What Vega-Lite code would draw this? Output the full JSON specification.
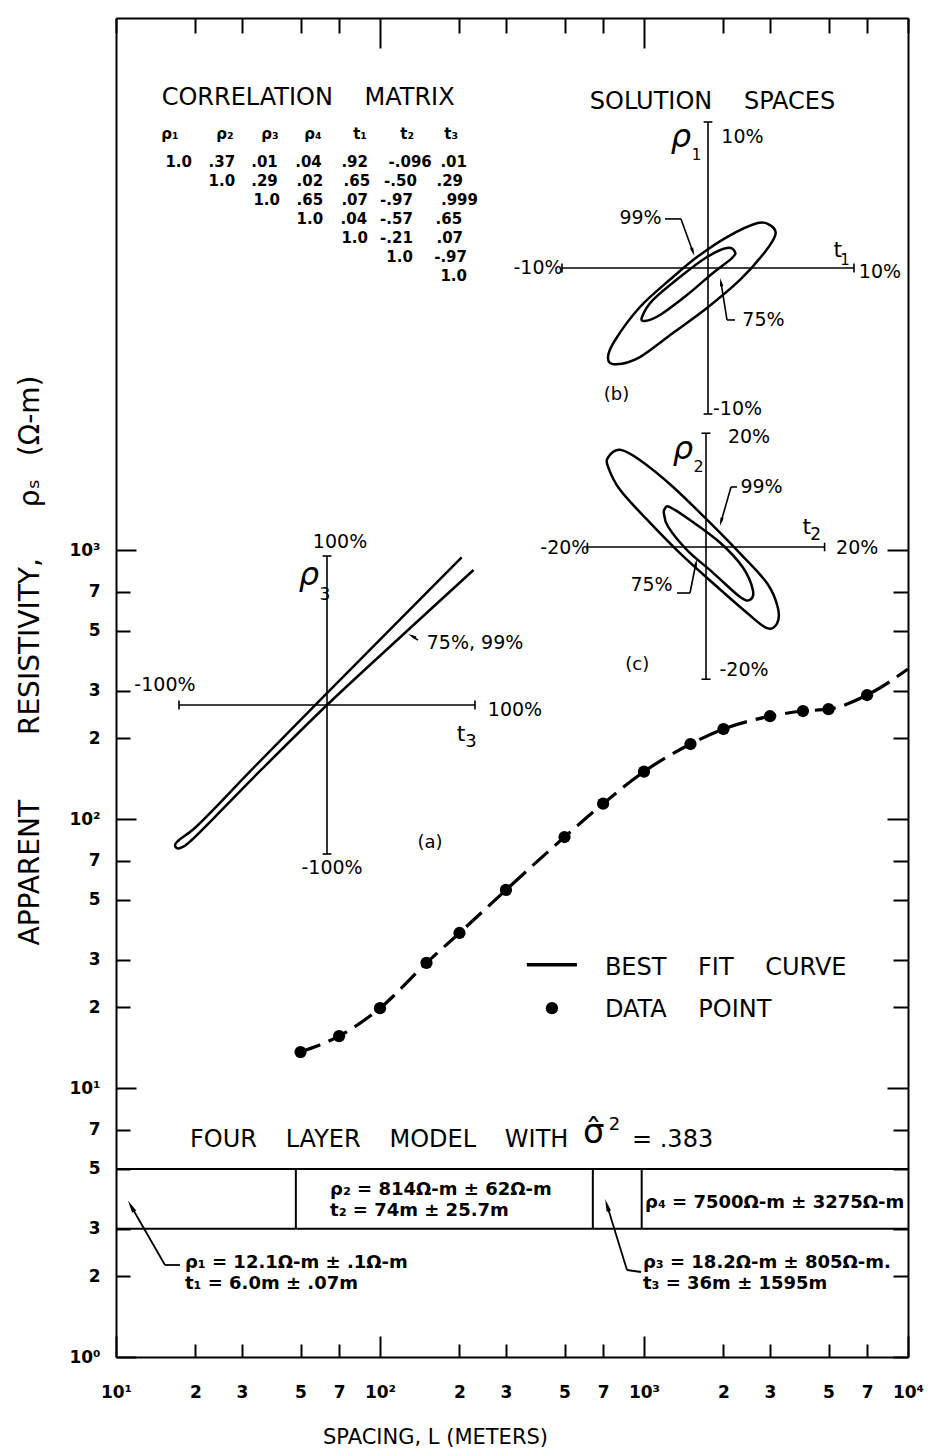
{
  "$schema": "https://vega.github.io/schema/vega-lite/v6.json",
  "width": 792,
  "height": 1339,
  "autosize": {"type": "none"},
  "padding": {"left": 116, "top": 18, "right": 27, "bottom": 97},
  "background": "white",
  "config": {"view": {"stroke": null}, "font": "DejaVu Sans", "text": {"color": "black"}},
  "datasets": {
    "curve": [
      {"x": 50, "y": 13.6}, {"x": 70, "y": 15.6}, {"x": 100, "y": 19.8}, {"x": 150, "y": 29.2},
      {"x": 200, "y": 37.7}, {"x": 300, "y": 54.5}, {"x": 500, "y": 85.7}, {"x": 700, "y": 114},
      {"x": 1000, "y": 150}, {"x": 1500, "y": 190}, {"x": 2000, "y": 216}, {"x": 3000, "y": 241},
      {"x": 4000, "y": 252}, {"x": 5000, "y": 256}, {"x": 7000, "y": 289}, {"x": 10000, "y": 361}
    ],
    "points": [
      {"x": 50, "y": 13.6}, {"x": 70, "y": 15.6}, {"x": 100, "y": 19.8}, {"x": 150, "y": 29.2},
      {"x": 200, "y": 37.7}, {"x": 300, "y": 54.5}, {"x": 500, "y": 85.7}, {"x": 700, "y": 114},
      {"x": 1000, "y": 150}, {"x": 1500, "y": 190}, {"x": 2000, "y": 216}, {"x": 3000, "y": 241},
      {"x": 4000, "y": 252}, {"x": 5000, "y": 256}, {"x": 7000, "y": 289}
    ],
    "layerBox": [
      {"x": 10, "x2": 10000, "y": 5, "y2": 5},
      {"x": 10, "x2": 10000, "y": 3, "y2": 3},
      {"x": 48, "x2": 48, "y": 3, "y2": 5},
      {"x": 640, "x2": 640, "y": 3, "y2": 5},
      {"x": 980, "x2": 980, "y": 3, "y2": 5}
    ],
    "leaders": [
      {"x": 17.47, "x2": 15.33, "y": 2.198, "y2": 2.198},
      {"x": 15.33, "x2": 11.4, "y": 2.198, "y2": 3.64},
      {"x": 974, "x2": 862, "y": 2.07, "y2": 2.106},
      {"x": 862, "x2": 724, "y": 2.106, "y2": 3.67}
    ],
    "legendLine": [{"x": 360, "x2": 557, "y": 28.7, "y2": 28.7}],
    "legendDot": [{"x": 448, "y": 19.8}],
    "mainHeads": [{"x": 11.4, "y": 3.64, "a": 330}, {"x": 724, "y": 3.67, "a": 343}],
    "layerNotes": [
      {"x": 64.7, "y": 4.18, "txt": "ρ₂ = 814Ω-m ± 62Ω-m"},
      {"x": 64.7, "y": 3.49, "txt": "t₂ = 74m ± 25.7m"},
      {"x": 1009, "y": 3.74, "txt": "ρ₄ = 7500Ω-m ± 3275Ω-m"},
      {"x": 18.25, "y": 2.236, "txt": "ρ₁ = 12.1Ω-m ± .1Ω-m"},
      {"x": 18.25, "y": 1.868, "txt": "t₁ = 6.0m ± .07m"},
      {"x": 991, "y": 2.236, "txt": "ρ₃ = 18.2Ω-m ± 805Ω-m."},
      {"x": 991, "y": 1.868, "txt": "t₃ = 36m ± 1595m"}
    ],
    "modelTitle": [
      {"x": 19.06, "y": 6.41, "s": 24, "txt": "FOUR\u2003\u2009LAYER\u2003\u2009MODEL\u2003\u2009WITH"},
      {"x": 587.6, "y": 6.8, "s": 34, "txt": "σ̂"},
      {"x": 736, "y": 7.29, "s": 18, "txt": "2"},
      {"x": 900.6, "y": 6.41, "s": 24, "txt": "= .383"}
    ],
    "legendText": [
      {"x": 711, "y": 27.9, "txt": "BEST\u2003 FIT\u2003 CURVE"},
      {"x": 711, "y": 19.5, "txt": "DATA\u2003 POINT"}
    ],
    "aSeg": [
      {"t": -100, "t2": 100, "r": 0, "r2": 0}, {"t": 0, "t2": 0, "r": -100, "r2": 100},
      {"t": -100, "t2": -100, "r": -3, "r2": 3}, {"t": 100, "t2": 100, "r": -3, "r2": 3},
      {"t": -3, "t2": 3, "r": 100, "r2": 100}, {"t": -3, "t2": 3, "r": -100, "r2": -100},
      {"t": 61.5, "t2": 57.4, "r": 43.6, "r2": 46.3}
    ],
    "aShape": [
      {"i": 0, "t": 91, "r": 99.1}, {"i": 1, "t": 40, "r": 48}, {"i": 2, "t": 0, "r": 8},
      {"i": 3, "t": -50, "r": -42.5}, {"i": 4, "t": -90.3, "r": -83.4}, {"i": 5, "t": -100.5, "r": -91.1},
      {"i": 6, "t": -102.7, "r": -94}, {"i": 7, "t": -101.1, "r": -96.2}, {"i": 8, "t": -97.1, "r": -95.1},
      {"i": 9, "t": -91.4, "r": -90.6}, {"i": 10, "t": -50, "r": -49}, {"i": 11, "t": 0, "r": 0},
      {"i": 12, "t": 50, "r": 46}, {"i": 13, "t": 99, "r": 90.6}
    ],
    "aHeads": [{"t": 57.4, "r": 46.3, "a": 297}],
    "aText": [
      {"t": 8.8, "r": 109.4, "s": 19, "txt": "100%"},
      {"t": -109.5, "r": 13.4, "s": 19, "txt": "-100%"},
      {"t": 127, "r": -3.4, "s": 19, "txt": "100%"},
      {"t": 90.5, "r": -19.5, "s": 22, "txt": "t"},
      {"t": 97.3, "r": -24.8, "s": 18, "txt": "3"},
      {"t": 100, "r": 41.6, "s": 19, "txt": "75%, 99%"},
      {"t": 69.6, "r": -92.6, "s": 18, "txt": "(a)"},
      {"t": 3.4, "r": -109.4, "s": 19, "txt": "-100%"},
      {"t": -1.35, "r": 73.8, "s": 17, "txt": "3"}
    ],
    "aRho": [{"t": -12.2, "r": 87.2, "txt": "ρ"}],
    "bSeg": [
      {"t": -10, "t2": 10, "r": 0, "r2": 0}, {"t": 0, "t2": 0, "r": -10, "r2": 10},
      {"t": -10, "t2": -10, "r": -0.3, "r2": 0.3}, {"t": 10, "t2": 10, "r": -0.3, "r2": 0.3},
      {"t": -0.3, "t2": 0.3, "r": 10, "r2": 10}, {"t": -0.3, "t2": 0.3, "r": -10, "r2": -10},
      {"t": -2.95, "t2": -1.85, "r": 3.36, "r2": 3.36}, {"t": -1.85, "t2": -1.03, "r": 3.36, "r2": 1.1},
      {"t": 1.85, "t2": 1.3, "r": -3.56, "r2": -3.56}, {"t": 1.3, "t2": 0.89, "r": -3.56, "r2": -0.96}
    ],
    "bShape": [
      {"k": "99", "i": 0, "t": 4.3, "r": 2.9}, {"k": "99", "i": 1, "t": 3.4, "r": 3.08},
      {"k": "99", "i": 2, "t": 1.3, "r": 2.12}, {"k": "99", "i": 3, "t": -0.75, "r": 0.75},
      {"k": "99", "i": 4, "t": -2.4, "r": -0.62}, {"k": "99", "i": 5, "t": -4.66, "r": -2.67},
      {"k": "99", "i": 6, "t": -6.4, "r": -5.0}, {"k": "99", "i": 7, "t": -6.85, "r": -6.2},
      {"k": "99", "i": 8, "t": -6.3, "r": -6.6}, {"k": "99", "i": 9, "t": -4.66, "r": -6.1},
      {"k": "99", "i": 10, "t": -2.4, "r": -4.45}, {"k": "99", "i": 11, "t": -0.07, "r": -2.74},
      {"k": "99", "i": 12, "t": 2.19, "r": -0.82}, {"k": "99", "i": 13, "t": 3.9, "r": 1.1},
      {"k": "99", "i": 14, "t": 4.62, "r": 2.3},
      {"k": "75", "i": 0, "t": 1.85, "r": 1.1}, {"k": "75", "i": 1, "t": 1.3, "r": 1.37},
      {"k": "75", "i": 2, "t": -0.07, "r": 0.75}, {"k": "75", "i": 3, "t": -1.92, "r": -0.62},
      {"k": "75", "i": 4, "t": -3.77, "r": -2.19}, {"k": "75", "i": 5, "t": -4.52, "r": -3.36},
      {"k": "75", "i": 6, "t": -4.32, "r": -3.63}, {"k": "75", "i": 7, "t": -3.29, "r": -3.22},
      {"k": "75", "i": 8, "t": -1.44, "r": -1.85}, {"k": "75", "i": 9, "t": 0.34, "r": -0.34},
      {"k": "75", "i": 10, "t": 1.64, "r": 0.68}
    ],
    "bHeads": [{"t": -1.03, "r": 1.1, "a": 160}, {"t": 0.89, "r": -0.96, "a": 351}],
    "bText": [
      {"t": 0.31, "r": 11.37, "s": 24, "txt": "SOLUTION\u2003 SPACES"},
      {"t": 2.36, "r": 8.97, "s": 19, "txt": "10%"},
      {"t": -11.64, "r": 0, "s": 19, "txt": "-10%"},
      {"t": 8.9, "r": 1.23, "s": 22, "txt": "t"},
      {"t": 9.38, "r": 0.55, "s": 15, "txt": "1"},
      {"t": 11.78, "r": -0.27, "s": 19, "txt": "10%"},
      {"t": -4.62, "r": 3.42, "s": 19, "txt": "99%"},
      {"t": 3.8, "r": -3.56, "s": 19, "txt": "75%"},
      {"t": -6.27, "r": -8.7, "s": 18, "txt": "(b)"},
      {"t": 2.02, "r": -9.66, "s": 19, "txt": "-10%"},
      {"t": -0.79, "r": 7.74, "s": 15, "txt": "1"}
    ],
    "bRho": [{"t": -1.85, "r": 8.97, "txt": "ρ"}],
    "cSeg": [
      {"t": -20, "t2": 20, "r": 0, "r2": 0}, {"t": 0, "t2": 0, "r": -21.5, "r2": 18.5},
      {"t": -20, "t2": -20, "r": -0.7, "r2": 0.7}, {"t": 20, "t2": 20, "r": -0.7, "r2": 0.7},
      {"t": -0.75, "t2": 0.75, "r": 18.5, "r2": 18.5}, {"t": -0.75, "t2": 0.75, "r": -21.5, "r2": -21.5},
      {"t": 5.23, "t2": 4.22, "r": 9.76, "r2": 9.76}, {"t": 4.22, "t2": 2.53, "r": 9.76, "r2": 4.07},
      {"t": -4.89, "t2": -2.7, "r": -7.48, "r2": -7.48}, {"t": -2.7, "t2": -1.69, "r": -7.48, "r2": -2.6}
    ],
    "cShape": [
      {"k": "99", "i": 0, "t": -16.5, "r": 14.6}, {"k": "99", "i": 1, "t": -14.5, "r": 15.8},
      {"k": "99", "i": 2, "t": -11.1, "r": 14.1}, {"k": "99", "i": 3, "t": -5.6, "r": 9.8},
      {"k": "99", "i": 4, "t": 0.2, "r": 4.4}, {"k": "99", "i": 5, "t": 5.7, "r": -1.0},
      {"k": "99", "i": 6, "t": 10.3, "r": -5.9}, {"k": "99", "i": 7, "t": 12.1, "r": -9.8},
      {"k": "99", "i": 8, "t": 12.0, "r": -12.4}, {"k": "99", "i": 9, "t": 10.3, "r": -13.2},
      {"k": "99", "i": 10, "t": 6.9, "r": -10.7}, {"k": "99", "i": 11, "t": 1.2, "r": -5.9},
      {"k": "99", "i": 12, "t": -4.4, "r": -1.0}, {"k": "99", "i": 13, "t": -9.9, "r": 4.4},
      {"k": "99", "i": 14, "t": -14.5, "r": 9.3}, {"k": "99", "i": 15, "t": -16.5, "r": 13.0},
      {"k": "75", "i": 0, "t": -6.9, "r": 6.3}, {"k": "75", "i": 1, "t": -6.1, "r": 6.5},
      {"k": "75", "i": 2, "t": -2.7, "r": 4.4}, {"k": "75", "i": 3, "t": 2.4, "r": 0.7},
      {"k": "75", "i": 4, "t": 6.2, "r": -3.3}, {"k": "75", "i": 5, "t": 7.9, "r": -7.0},
      {"k": "75", "i": 6, "t": 7.4, "r": -8.6}, {"k": "75", "i": 7, "t": 5.7, "r": -8.1},
      {"k": "75", "i": 8, "t": 1.2, "r": -4.2}, {"k": "75", "i": 9, "t": -3.2, "r": -0.5},
      {"k": "75", "i": 10, "t": -6.4, "r": 3.3}, {"k": "75", "i": 11, "t": -7.1, "r": 5.5}
    ],
    "cHeads": [{"t": 2.53, "r": 4.07, "a": 195}, {"t": -1.69, "r": -2.6, "a": 11}],
    "cText": [
      {"t": 7.25, "r": 17.9, "s": 19, "txt": "20%"},
      {"t": -23.8, "r": -0.16, "s": 19, "txt": "-20%"},
      {"t": 17.0, "r": 3.25, "s": 22, "txt": "t"},
      {"t": 18.5, "r": 1.95, "s": 17, "txt": "2"},
      {"t": 25.5, "r": -0.16, "s": 19, "txt": "20%"},
      {"t": 9.36, "r": 9.76, "s": 19, "txt": "99%"},
      {"t": -9.19, "r": -6.18, "s": 19, "txt": "75%"},
      {"t": -11.6, "r": -19.2, "s": 18, "txt": "(c)"},
      {"t": 6.41, "r": -20.0, "s": 19, "txt": "-20%"},
      {"t": -1.23, "r": 13.0, "s": 16, "txt": "2"}
    ],
    "cRho": [{"t": -3.88, "r": 15.9, "txt": "ρ"}],
    "matrixTitle": [{"c": 3.64, "r": -2.37, "txt": "CORRELATION\u2003 MATRIX"}],
    "matrixHead": [
      {"c": 0.5, "r": -0.5, "txt": "ρ₁"}, {"c": 1.75, "r": -0.5, "txt": "ρ₂"},
      {"c": 2.77, "r": -0.5, "txt": "ρ₃"}, {"c": 3.75, "r": -0.5, "txt": "ρ₄"},
      {"c": 4.82, "r": -0.5, "txt": "t₁"}, {"c": 5.89, "r": -0.5, "txt": "t₂"},
      {"c": 6.89, "r": -0.5, "txt": "t₃"}
    ],
    "matrixCells": [
      {"c": 1, "r": 1, "txt": "1.0"}, {"c": 1.98, "r": 1, "txt": ".37"}, {"c": 2.95, "r": 1, "txt": ".01"},
      {"c": 3.95, "r": 1, "txt": ".04"}, {"c": 5, "r": 1, "txt": ".92"}, {"c": 6.45, "r": 1, "txt": "-.096"},
      {"c": 7.25, "r": 1, "txt": ".01"},
      {"c": 1.98, "r": 2, "txt": "1.0"}, {"c": 2.95, "r": 2, "txt": ".29"}, {"c": 3.98, "r": 2, "txt": ".02"},
      {"c": 5.05, "r": 2, "txt": ".65"}, {"c": 6.11, "r": 2, "txt": "-.50"}, {"c": 7.16, "r": 2, "txt": ".29"},
      {"c": 3, "r": 3, "txt": "1.0"}, {"c": 3.98, "r": 3, "txt": ".65"}, {"c": 5, "r": 3, "txt": ".07"},
      {"c": 6.02, "r": 3, "txt": "-.97"}, {"c": 7.5, "r": 3, "txt": ".999"},
      {"c": 3.98, "r": 4, "txt": "1.0"}, {"c": 4.98, "r": 4, "txt": ".04"}, {"c": 6.02, "r": 4, "txt": "-.57"},
      {"c": 7.14, "r": 4, "txt": ".65"},
      {"c": 5, "r": 5, "txt": "1.0"}, {"c": 6.02, "r": 5, "txt": "-.21"}, {"c": 7.16, "r": 5, "txt": ".07"},
      {"c": 6.02, "r": 6, "txt": "1.0"}, {"c": 7.25, "r": 6, "txt": "-.97"},
      {"c": 7.25, "r": 7, "txt": "1.0"}
    ]
  },
  "resolve": {
    "scale": {"x": "independent", "y": "independent"},
    "axis": {"x": "independent", "y": "independent"}
  },
  "layer": [
    {
      "resolve": {"axis": {"x": "independent", "y": "independent"}},
      "layer": [
        {
          "data": {"name": "curve"},
          "mark": {"type": "line", "stroke": "black", "strokeWidth": 3.2, "strokeDash": [21, 9], "interpolate": "monotone"},
          "encoding": {
            "x": {
              "field": "x", "type": "quantitative",
              "scale": {"type": "log", "domain": [10, 10000], "nice": false},
              "axis": {
                "orient": "bottom", "grid": false, "ticks": false,
                "domain": true, "domainColor": "black", "domainWidth": 2,
                "values": [10, 20, 30, 50, 70, 100, 200, 300, 500, 700, 1000, 2000, 3000, 5000, 7000, 10000],
                "labelExpr": "datum.value == 10 ? '10¹' : datum.value == 100 ? '10²' : datum.value == 1000 ? '10³' : datum.value == 10000 ? '10⁴' : substring('' + datum.value, 0, 1)",
                "labelPadding": 27, "labelFontSize": 17, "labelFontWeight": "bold", "labelColor": "black",
                "labelFlush": false, "labelOverlap": false, "labelBound": false,
                "title": "SPACING, L (METERS)", "titleX": 319, "titleY": 80,
                "titleAlign": "center", "titleBaseline": "middle", "titleAnchor": null,
                "titleFontSize": 21, "titleFontWeight": "normal", "titleColor": "black"
              }
            },
            "y": {
              "field": "y", "type": "quantitative",
              "scale": {"type": "log", "domain": [1, 95000], "nice": false},
              "axis": {
                "orient": "left", "grid": false, "ticks": false,
                "domain": true, "domainColor": "black", "domainWidth": 2,
                "values": [1, 2, 3, 5, 7, 10, 20, 30, 50, 70, 100, 200, 300, 500, 700, 1000],
                "labelExpr": "datum.value == 1 ? '10⁰' : datum.value == 10 ? '10¹' : datum.value == 100 ? '10²' : datum.value == 1000 ? '10³' : substring('' + datum.value, 0, 1)",
                "labelPadding": 16, "labelFontSize": 17, "labelFontWeight": "bold", "labelColor": "black",
                "labelFlush": false, "labelOverlap": false, "labelBound": false,
                "title": "APPARENT\u2003\u2003 RESISTIVITY,\u2003\u2002 ρₛ\u2002 (Ω-m)", "titleX": -86, "titleY": 642,
                "titleAngle": 270, "titleAlign": "center", "titleBaseline": "middle", "titleAnchor": null,
                "titleFontSize": 28, "titleFontWeight": "normal", "titleColor": "black"
              }
            }
          }
        },
        {
          "data": {"name": "points"},
          "mark": {"type": "circle", "size": 150, "color": "black", "opacity": 1},
          "encoding": {
            "x": {
              "field": "x", "type": "quantitative",
              "scale": {"type": "log", "domain": [10, 10000], "nice": false},
              "axis": {
                "orient": "bottom", "grid": false, "labels": false, "domain": false, "title": null,
                "values": [10, 20, 30, 50, 70, 100, 200, 300, 500, 700, 1000, 2000, 3000, 5000, 7000, 10000],
                "tickColor": "black", "tickWidth": 2,
                "tickSize": {"condition": {"test": "datum.value == 10 || datum.value == 100 || datum.value == 1000 || datum.value == 10000", "value": -21}, "value": -13}
              }
            },
            "y": {
              "field": "y", "type": "quantitative",
              "scale": {"type": "log", "domain": [1, 95000], "nice": false},
              "axis": {
                "orient": "left", "grid": false, "labels": false, "domain": false, "title": null,
                "values": [1, 2, 3, 5, 7, 10, 20, 30, 50, 70, 100, 200, 300, 500, 700, 1000],
                "tickColor": "black", "tickWidth": 2,
                "tickSize": {"condition": {"test": "datum.value == 1 || datum.value == 10 || datum.value == 100 || datum.value == 1000", "value": -20}, "value": -14}
              }
            }
          }
        },
        {
          "data": {"name": "layerBox"},
          "mark": {"type": "rule", "stroke": "black", "strokeWidth": 2},
          "encoding": {
            "x": {
              "field": "x", "type": "quantitative",
              "scale": {"type": "log", "domain": [10, 10000], "nice": false},
              "axis": {
                "orient": "top", "grid": false, "labels": false, "title": null,
                "domain": true, "domainColor": "black", "domainWidth": 2,
                "values": [10, 20, 30, 50, 70, 100, 200, 300, 500, 700, 1000, 2000, 3000, 5000, 7000, 10000],
                "tickColor": "black", "tickWidth": 2,
                "tickSize": {"condition": {"test": "datum.value == 100 || datum.value == 1000", "value": -30}, "value": -15}
              }
            },
            "x2": {"field": "x2"},
            "y": {
              "field": "y", "type": "quantitative",
              "scale": {"type": "log", "domain": [1, 95000], "nice": false},
              "axis": {
                "orient": "right", "grid": false, "labels": false, "title": null,
                "domain": true, "domainColor": "black", "domainWidth": 2,
                "values": [1, 2, 3, 5, 7, 10, 20, 30, 50, 70, 100, 200, 300, 500, 700, 1000],
                "tickColor": "black", "tickWidth": 2,
                "tickSize": {"condition": {"test": "datum.value == 10 || datum.value == 100 || datum.value == 1000", "value": -21}, "value": -15}
              }
            },
            "y2": {"field": "y2"}
          }
        },
        {
          "data": {"name": "leaders"},
          "mark": {"type": "rule", "stroke": "black", "strokeWidth": 1.8},
          "encoding": {
            "x": {"field": "x", "type": "quantitative", "scale": {"type": "log", "domain": [10, 10000], "nice": false}, "axis": null},
            "x2": {"field": "x2"},
            "y": {"field": "y", "type": "quantitative", "scale": {"type": "log", "domain": [1, 95000], "nice": false}, "axis": null},
            "y2": {"field": "y2"}
          }
        },
        {
          "data": {"name": "legendLine"},
          "mark": {"type": "rule", "stroke": "black", "strokeWidth": 3.5},
          "encoding": {
            "x": {"field": "x", "type": "quantitative", "scale": {"type": "log", "domain": [10, 10000], "nice": false}, "axis": null},
            "x2": {"field": "x2"},
            "y": {"field": "y", "type": "quantitative", "scale": {"type": "log", "domain": [1, 95000], "nice": false}, "axis": null},
            "y2": {"field": "y2"}
          }
        },
        {
          "data": {"name": "legendDot"},
          "mark": {"type": "circle", "size": 150, "color": "black", "opacity": 1},
          "encoding": {
            "x": {"field": "x", "type": "quantitative", "scale": {"type": "log", "domain": [10, 10000], "nice": false}, "axis": null},
            "y": {"field": "y", "type": "quantitative", "scale": {"type": "log", "domain": [1, 95000], "nice": false}, "axis": null}
          }
        },
        {
          "data": {"name": "mainHeads"},
          "mark": {"type": "point", "shape": "M0,-1L0.36,1L-0.36,1Z", "filled": true, "color": "black", "opacity": 1, "size": 160},
          "encoding": {
            "x": {"field": "x", "type": "quantitative", "scale": {"type": "log", "domain": [10, 10000], "nice": false}, "axis": null},
            "y": {"field": "y", "type": "quantitative", "scale": {"type": "log", "domain": [1, 95000], "nice": false}, "axis": null},
            "angle": {"field": "a", "type": "quantitative", "scale": null}
          }
        },
        {
          "data": {"name": "layerNotes"},
          "mark": {"type": "text", "align": "left", "baseline": "middle", "fontSize": 18, "fontWeight": "bold"},
          "encoding": {
            "x": {"field": "x", "type": "quantitative", "scale": {"type": "log", "domain": [10, 10000], "nice": false}, "axis": null},
            "y": {"field": "y", "type": "quantitative", "scale": {"type": "log", "domain": [1, 95000], "nice": false}, "axis": null},
            "text": {"field": "txt", "type": "nominal"}
          }
        },
        {
          "data": {"name": "modelTitle"},
          "mark": {"type": "text", "align": "left", "baseline": "middle"},
          "encoding": {
            "x": {"field": "x", "type": "quantitative", "scale": {"type": "log", "domain": [10, 10000], "nice": false}, "axis": null},
            "y": {"field": "y", "type": "quantitative", "scale": {"type": "log", "domain": [1, 95000], "nice": false}, "axis": null},
            "size": {"field": "s", "type": "quantitative", "scale": null},
            "text": {"field": "txt", "type": "nominal"}
          }
        },
        {
          "data": {"name": "legendText"},
          "mark": {"type": "text", "align": "left", "baseline": "middle", "fontSize": 24},
          "encoding": {
            "x": {"field": "x", "type": "quantitative", "scale": {"type": "log", "domain": [10, 10000], "nice": false}, "axis": null},
            "y": {"field": "y", "type": "quantitative", "scale": {"type": "log", "domain": [1, 95000], "nice": false}, "axis": null},
            "text": {"field": "txt", "type": "nominal"}
          }
        }
      ]
    },
    {
      "layer": [
        {
          "data": {"name": "aSeg"},
          "mark": {"type": "rule", "stroke": "black", "strokeWidth": 1.6},
          "encoding": {
            "x": {"field": "t", "type": "quantitative", "scale": {"domain": [-142.57, 392.57], "nice": false, "zero": false}, "axis": null},
            "x2": {"field": "t2"},
            "y": {"field": "r", "type": "quantitative", "scale": {"domain": [-437.58, 461.08], "nice": false, "zero": false}, "axis": null},
            "y2": {"field": "r2"}
          }
        },
        {
          "data": {"name": "aShape"},
          "mark": {"type": "line", "stroke": "black", "strokeWidth": 2.5, "interpolate": "catmull-rom"},
          "encoding": {
            "x": {"field": "t", "type": "quantitative", "scale": {"domain": [-142.57, 392.57], "nice": false, "zero": false}, "axis": null},
            "y": {"field": "r", "type": "quantitative", "scale": {"domain": [-437.58, 461.08], "nice": false, "zero": false}, "axis": null},
            "order": {"field": "i", "type": "quantitative"}
          }
        },
        {
          "data": {"name": "aHeads"},
          "mark": {"type": "point", "shape": "M0,-1L0.4,1L-0.4,1Z", "filled": true, "color": "black", "opacity": 1, "size": 70},
          "encoding": {
            "x": {"field": "t", "type": "quantitative", "scale": {"domain": [-142.57, 392.57], "nice": false, "zero": false}, "axis": null},
            "y": {"field": "r", "type": "quantitative", "scale": {"domain": [-437.58, 461.08], "nice": false, "zero": false}, "axis": null},
            "angle": {"field": "a", "type": "quantitative", "scale": null}
          }
        },
        {
          "data": {"name": "aText"},
          "mark": {"type": "text", "align": "center", "baseline": "middle"},
          "encoding": {
            "x": {"field": "t", "type": "quantitative", "scale": {"domain": [-142.57, 392.57], "nice": false, "zero": false}, "axis": null},
            "y": {"field": "r", "type": "quantitative", "scale": {"domain": [-437.58, 461.08], "nice": false, "zero": false}, "axis": null},
            "size": {"field": "s", "type": "quantitative", "scale": null},
            "text": {"field": "txt", "type": "nominal"}
          }
        },
        {
          "data": {"name": "aRho"},
          "mark": {"type": "text", "align": "center", "baseline": "middle", "fontSize": 32, "fontStyle": "italic"},
          "encoding": {
            "x": {"field": "t", "type": "quantitative", "scale": {"domain": [-142.57, 392.57], "nice": false, "zero": false}, "axis": null},
            "y": {"field": "r", "type": "quantitative", "scale": {"domain": [-437.58, 461.08], "nice": false, "zero": false}, "axis": null},
            "text": {"field": "txt", "type": "nominal"}
          }
        }
      ]
    },
    {
      "layer": [
        {
          "data": {"name": "bSeg"},
          "mark": {"type": "rule", "stroke": "black", "strokeWidth": 1.6},
          "encoding": {
            "x": {"field": "t", "type": "quantitative", "scale": {"domain": [-40.548, 13.699], "nice": false, "zero": false}, "axis": null},
            "x2": {"field": "t2"},
            "y": {"field": "r", "type": "quantitative", "scale": {"domain": [-74.589, 17.123], "nice": false, "zero": false}, "axis": null},
            "y2": {"field": "r2"}
          }
        },
        {
          "data": {"name": "bShape"},
          "mark": {"type": "line", "stroke": "black", "strokeWidth": 2.5, "interpolate": "cardinal-closed"},
          "encoding": {
            "x": {"field": "t", "type": "quantitative", "scale": {"domain": [-40.548, 13.699], "nice": false, "zero": false}, "axis": null},
            "y": {"field": "r", "type": "quantitative", "scale": {"domain": [-74.589, 17.123], "nice": false, "zero": false}, "axis": null},
            "detail": {"field": "k", "type": "nominal"},
            "order": {"field": "i", "type": "quantitative"}
          }
        },
        {
          "data": {"name": "bHeads"},
          "mark": {"type": "point", "shape": "M0,-1L0.4,1L-0.4,1Z", "filled": true, "color": "black", "opacity": 1, "size": 70},
          "encoding": {
            "x": {"field": "t", "type": "quantitative", "scale": {"domain": [-40.548, 13.699], "nice": false, "zero": false}, "axis": null},
            "y": {"field": "r", "type": "quantitative", "scale": {"domain": [-74.589, 17.123], "nice": false, "zero": false}, "axis": null},
            "angle": {"field": "a", "type": "quantitative", "scale": null}
          }
        },
        {
          "data": {"name": "bText"},
          "mark": {"type": "text", "align": "center", "baseline": "middle"},
          "encoding": {
            "x": {"field": "t", "type": "quantitative", "scale": {"domain": [-40.548, 13.699], "nice": false, "zero": false}, "axis": null},
            "y": {"field": "r", "type": "quantitative", "scale": {"domain": [-74.589, 17.123], "nice": false, "zero": false}, "axis": null},
            "size": {"field": "s", "type": "quantitative", "scale": null},
            "text": {"field": "txt", "type": "nominal"}
          }
        },
        {
          "data": {"name": "bRho"},
          "mark": {"type": "text", "align": "center", "baseline": "middle", "fontSize": 32, "fontStyle": "italic"},
          "encoding": {
            "x": {"field": "t", "type": "quantitative", "scale": {"domain": [-40.548, 13.699], "nice": false, "zero": false}, "axis": null},
            "y": {"field": "r", "type": "quantitative", "scale": {"domain": [-74.589, 17.123], "nice": false, "zero": false}, "axis": null},
            "text": {"field": "txt", "type": "nominal"}
          }
        }
      ]
    },
    {
      "layer": [
        {
          "data": {"name": "cSeg"},
          "mark": {"type": "rule", "stroke": "black", "strokeWidth": 1.6},
          "encoding": {
            "x": {"field": "t", "type": "quantitative", "scale": {"domain": [-99.494, 34.064], "nice": false, "zero": false}, "axis": null},
            "x2": {"field": "t2"},
            "y": {"field": "r", "type": "quantitative", "scale": {"domain": [-131.707, 86.017], "nice": false, "zero": false}, "axis": null},
            "y2": {"field": "r2"}
          }
        },
        {
          "data": {"name": "cShape"},
          "mark": {"type": "line", "stroke": "black", "strokeWidth": 2.5, "interpolate": "cardinal-closed"},
          "encoding": {
            "x": {"field": "t", "type": "quantitative", "scale": {"domain": [-99.494, 34.064], "nice": false, "zero": false}, "axis": null},
            "y": {"field": "r", "type": "quantitative", "scale": {"domain": [-131.707, 86.017], "nice": false, "zero": false}, "axis": null},
            "detail": {"field": "k", "type": "nominal"},
            "order": {"field": "i", "type": "quantitative"}
          }
        },
        {
          "data": {"name": "cHeads"},
          "mark": {"type": "point", "shape": "M0,-1L0.4,1L-0.4,1Z", "filled": true, "color": "black", "opacity": 1, "size": 70},
          "encoding": {
            "x": {"field": "t", "type": "quantitative", "scale": {"domain": [-99.494, 34.064], "nice": false, "zero": false}, "axis": null},
            "y": {"field": "r", "type": "quantitative", "scale": {"domain": [-131.707, 86.017], "nice": false, "zero": false}, "axis": null},
            "angle": {"field": "a", "type": "quantitative", "scale": null}
          }
        },
        {
          "data": {"name": "cText"},
          "mark": {"type": "text", "align": "center", "baseline": "middle"},
          "encoding": {
            "x": {"field": "t", "type": "quantitative", "scale": {"domain": [-99.494, 34.064], "nice": false, "zero": false}, "axis": null},
            "y": {"field": "r", "type": "quantitative", "scale": {"domain": [-131.707, 86.017], "nice": false, "zero": false}, "axis": null},
            "size": {"field": "s", "type": "quantitative", "scale": null},
            "text": {"field": "txt", "type": "nominal"}
          }
        },
        {
          "data": {"name": "cRho"},
          "mark": {"type": "text", "align": "center", "baseline": "middle", "fontSize": 32, "fontStyle": "italic"},
          "encoding": {
            "x": {"field": "t", "type": "quantitative", "scale": {"domain": [-99.494, 34.064], "nice": false, "zero": false}, "axis": null},
            "y": {"field": "r", "type": "quantitative", "scale": {"domain": [-131.707, 86.017], "nice": false, "zero": false}, "axis": null},
            "text": {"field": "txt", "type": "nominal"}
          }
        }
      ]
    },
    {
      "layer": [
        {
          "data": {"name": "matrixTitle"},
          "mark": {"type": "text", "align": "center", "baseline": "middle", "fontSize": 24},
          "encoding": {
            "x": {"field": "c", "type": "quantitative", "scale": {"domain": [-0.727, 17.273], "nice": false, "zero": false}, "axis": null},
            "y": {"field": "r", "type": "quantitative", "scale": {"domain": [-6.579, 63.895], "nice": false, "zero": false, "reverse": true}, "axis": null},
            "text": {"field": "txt", "type": "nominal"}
          }
        },
        {
          "data": {"name": "matrixHead"},
          "mark": {"type": "text", "align": "center", "baseline": "middle", "fontSize": 15, "fontWeight": "bold"},
          "encoding": {
            "x": {"field": "c", "type": "quantitative", "scale": {"domain": [-0.727, 17.273], "nice": false, "zero": false}, "axis": null},
            "y": {"field": "r", "type": "quantitative", "scale": {"domain": [-6.579, 63.895], "nice": false, "zero": false, "reverse": true}, "axis": null},
            "text": {"field": "txt", "type": "nominal"}
          }
        },
        {
          "data": {"name": "matrixCells"},
          "mark": {"type": "text", "align": "right", "baseline": "middle", "fontSize": 15, "fontWeight": "bold"},
          "encoding": {
            "x": {"field": "c", "type": "quantitative", "scale": {"domain": [-0.727, 17.273], "nice": false, "zero": false}, "axis": null},
            "y": {"field": "r", "type": "quantitative", "scale": {"domain": [-6.579, 63.895], "nice": false, "zero": false, "reverse": true}, "axis": null},
            "text": {"field": "txt", "type": "nominal"}
          }
        }
      ]
    }
  ]
}
